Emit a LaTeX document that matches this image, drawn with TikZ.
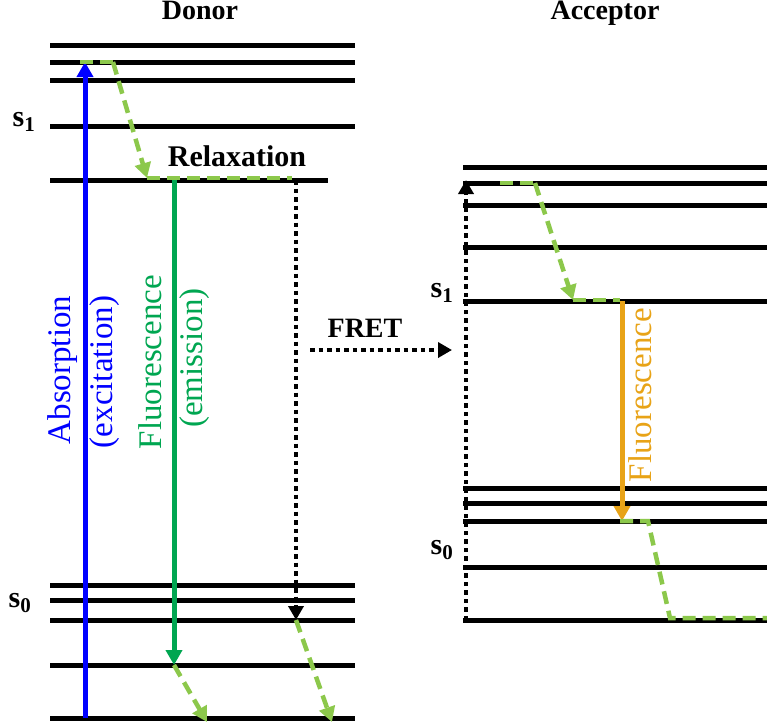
\documentclass[tikz,border=0pt]{standalone}
\usepackage{fontspec}
\setmainfont{Liberation Serif}
\usetikzlibrary{arrows.meta}
\begin{document}
\begin{tikzpicture}[x=1pt,y=-1pt,
 lvl/.style={line width=5pt},
 relax/.style={draw=relaxc, line width=4.5pt, dash pattern=on 13pt off 7pt},
 tip/.style={-{Triangle[length=15pt,width=16pt]}},
 dotarrow/.style={line width=4.5pt, dash pattern=on 4.5pt off 4pt, -{Triangle[length=14pt,width=15pt]}},
 ttl/.style={font=\bfseries\fontsize{28}{30}\selectfont},
 sl/.style={font=\bfseries\fontsize{30}{32}\selectfont},
 lbl/.style={font=\fontsize{33}{35}\selectfont, rotate=90}]
\definecolor{relaxc}{HTML}{8CC84B}
\definecolor{emis}{HTML}{00A651}
\definecolor{absc}{HTML}{0000FF}
\definecolor{accf}{HTML}{E8A317}
\useasboundingbox (0,0) rectangle (767,724);
\node[ttl, anchor=north, inner ysep=1pt] (td) at (200,0) {Donor};
\node[ttl, anchor=north, inner ysep=1pt] (ta) at (605,0) {Acceptor};
\foreach \y in {45,62,80,126,585,600,620,665,718} \draw[lvl] (50,\y) -- (355,\y);
\draw[lvl] (50,180) -- (328,180);
\foreach \y in {167,183,205,247,301,488,503,521,567,620} \draw[lvl] (463,\y) -- (767,\y);
\node[sl] (s1d) at (24,122) {s\textsubscript{1}};
\node[sl] (s0d) at (20,603) {s\textsubscript{0}};
\node[sl] (s1a) at (442,293) {s\textsubscript{1}};
\node[sl] (s0a) at (442,550) {s\textsubscript{0}};
\coordinate (ab0) at (85,718); \coordinate (ab1) at (85,62);
\draw[absc, line width=5pt, tip] (ab0) -- (ab1);
\coordinate (r1) at (80,62); \coordinate (r2) at (113,62); \coordinate (r3) at (147,178); \coordinate (r4) at (292,178);
\draw[relax] (r1) -- (r2);
\draw[relax, tip] (r2) -- (r3);
\draw[relax] (r3) -- (r4);
\node[font=\bfseries\fontsize{30}{32}\selectfont] (rel) at (237,156) {Relaxation};
\coordinate (e0) at (174,180); \coordinate (e1) at (174,665);
\draw[emis, line width=5pt, tip] (e0) -- (e1);
\coordinate (e2) at (207,722);
\draw[relax, tip] (e1) -- (e2);
\coordinate (f0) at (296,180); \coordinate (f1) at (296,620);
\draw[dotarrow] (f0) -- (f1);
\coordinate (f2) at (332,722);
\draw[relax, tip] (f1) -- (f2);
\node[lbl, absc] (abs) at (63,370) {Absorption};
\node[lbl, absc] (exc) at (105,372) {(excitation)};
\node[lbl, emis] (flu) at (150,362) {Fluorescence};
\node[lbl, emis] (emi) at (195,358) {(emission)};
\coordinate (fr0) at (310,350); \coordinate (fr1) at (452,350);
\draw[dotarrow] (fr0) -- (fr1);
\node[font=\bfseries\fontsize{28}{30}\selectfont] (fret) at (365,328) {FRET};
\coordinate (a0) at (466,620); \coordinate (a1) at (466,180);
\draw[dotarrow] (a0) -- (a1);
\coordinate (q1) at (500,183); \coordinate (q2) at (535,183); \coordinate (q3) at (573,300); \coordinate (q4) at (620,300);
\draw[relax] (q1) -- (q2);
\draw[relax, tip] (q2) -- (q3);
\draw[relax] (q3) -- (q4);
\coordinate (o0) at (622,301); \coordinate (o1) at (622,521);
\draw[accf, line width=5pt, tip] (o0) -- (o1);
\node[lbl, accf] (afl) at (640,395) {Fluorescence};
\coordinate (p1) at (620,521); \coordinate (p2) at (648,521); \coordinate (p3) at (670,618); \coordinate (p4) at (767,618);
\draw[relax] (p1) -- (p2) -- (p3) -- (p4);
\end{tikzpicture}
\end{document}
